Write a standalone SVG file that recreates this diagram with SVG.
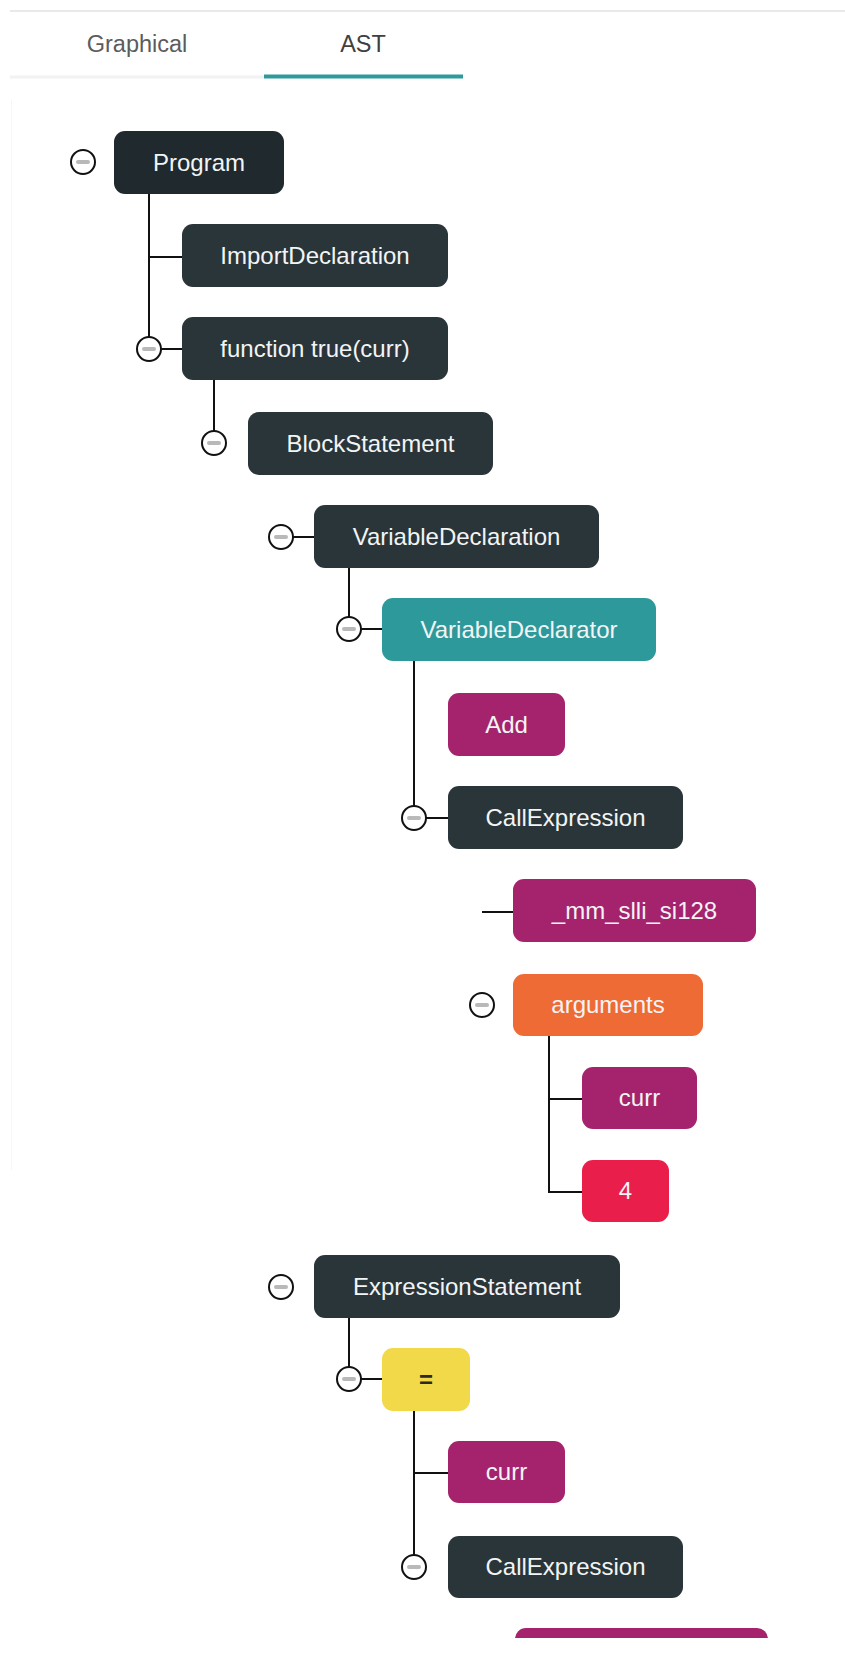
<svg xmlns="http://www.w3.org/2000/svg" width="845" height="1664" viewBox="0 0 845 1664">
  <defs>
    <style>
      .tab { font-family: "Liberation Sans", Arial, sans-serif; font-size: 23.5px; text-anchor: middle; }
      .node rect { stroke: none; }
      .node text { font-family: "Liberation Sans", Arial, sans-serif; font-size: 24px; text-anchor: middle; fill: #f2f4f5; }
      .root rect { fill: #1f292e; }
      .dark rect { fill: #2a3539; }
      .teal rect { fill: #2e999b; }
      .ident rect { fill: #a5236d; }
      .args rect { fill: #ef6b36; }
      .num rect { fill: #e91e4a; }
      .op rect { fill: #f2d94a; }
      .op text { fill: #2a2a2a; font-weight: bold; }
      .links line { stroke: #111; stroke-width: 2; }
      .toggle circle { fill: #fff; stroke: #111; stroke-width: 2; }
      .toggle line { stroke: #b9b9b9; stroke-width: 4; stroke-linecap: round; }
    </style>
    <symbol id="collapse" viewBox="-14 -14 28 28" overflow="visible">
      <g class="toggle">
        <circle r="12"/>
        <line x1="-5" y1="0" x2="5" y2="0"/>
      </g>
    </symbol>
    <clipPath id="viewport-clip">
      <rect x="0" y="0" width="845" height="1638"/>
    </clipPath>
  </defs>

  <rect width="845" height="1664" fill="#ffffff"/>

  <!-- tab header -->
  <g id="tabs">
    <line x1="10" y1="11" x2="845" y2="11" stroke="#e2e2e2" stroke-width="1.5"/>
    <line x1="10" y1="77" x2="264" y2="77" stroke="#f1f2f2" stroke-width="3"/>
    <line x1="264" y1="76.5" x2="463" y2="76.5" stroke="#2e9a9c" stroke-width="4"/>
    <text class="tab" x="137" y="52" fill="#5c5c5c">Graphical</text>
    <text class="tab" x="363" y="52" fill="#404040">AST</text>
  </g>

  <!-- faint panel edge -->
  <line x1="11.5" y1="100" x2="11.5" y2="1170" stroke="#f6f6f6" stroke-width="1"/>

  <!-- connectors -->
  <g id="connectors" class="links">
    <line x1="149" y1="194" x2="149" y2="349"/>
    <line x1="149" y1="257" x2="182" y2="257"/>
    <line x1="149" y1="349" x2="182" y2="349"/>
    <line x1="214" y1="380" x2="214" y2="443"/>
    <line x1="281" y1="537" x2="314" y2="537"/>
    <line x1="349" y1="568" x2="349" y2="629"/>
    <line x1="349" y1="629" x2="382" y2="629"/>
    <line x1="414" y1="661" x2="414" y2="818"/>
    <line x1="414" y1="818" x2="448" y2="818"/>
    <line x1="482" y1="912" x2="513" y2="912"/>
    <line x1="549" y1="1036" x2="549" y2="1192"/>
    <line x1="548" y1="1099" x2="582" y2="1099"/>
    <line x1="548" y1="1192" x2="582" y2="1192"/>
    <line x1="349" y1="1318" x2="349" y2="1379"/>
    <line x1="349" y1="1379" x2="382" y2="1379"/>
    <line x1="414" y1="1411" x2="414" y2="1567"/>
    <line x1="413" y1="1473" x2="448" y2="1473"/>
  </g>

  <!-- collapse toggles -->
  <g id="toggles">
    <use href="#collapse" x="69" y="148" width="28" height="28"/>
    <use href="#collapse" x="135" y="335" width="28" height="28"/>
    <use href="#collapse" x="200" y="429" width="28" height="28"/>
    <use href="#collapse" x="267" y="523" width="28" height="28"/>
    <use href="#collapse" x="335" y="615" width="28" height="28"/>
    <use href="#collapse" x="400" y="804" width="28" height="28"/>
    <use href="#collapse" x="468" y="991" width="28" height="28"/>
    <use href="#collapse" x="267" y="1273" width="28" height="28"/>
    <use href="#collapse" x="335" y="1365" width="28" height="28"/>
    <use href="#collapse" x="400" y="1553" width="28" height="28"/>
  </g>

  <!-- nodes -->
  <g id="node-program" class="node root">
    <rect x="114" y="131" width="170" height="63" rx="11"/>
    <text x="199" y="171">Program</text>
  </g>
  <g id="node-import" class="node dark">
    <rect x="182" y="224" width="266" height="63" rx="11"/>
    <text x="315" y="264">ImportDeclaration</text>
  </g>
  <g id="node-function" class="node dark">
    <rect x="182" y="317" width="266" height="63" rx="11"/>
    <text x="315" y="357">function true(curr)</text>
  </g>
  <g id="node-block" class="node dark">
    <rect x="248" y="412" width="245" height="63" rx="11"/>
    <text x="370.5" y="452">BlockStatement</text>
  </g>
  <g id="node-vardecl" class="node dark">
    <rect x="314" y="505" width="285" height="63" rx="11"/>
    <text x="456.5" y="545">VariableDeclaration</text>
  </g>
  <g id="node-declarator" class="node teal">
    <rect x="382" y="598" width="274" height="63" rx="11"/>
    <text x="519" y="638">VariableDeclarator</text>
  </g>
  <g id="node-add" class="node ident">
    <rect x="448" y="693" width="117" height="63" rx="11"/>
    <text x="506.5" y="733">Add</text>
  </g>
  <g id="node-call1" class="node dark">
    <rect x="448" y="786" width="235" height="63" rx="11"/>
    <text x="565.5" y="826">CallExpression</text>
  </g>
  <g id="node-callee" class="node ident">
    <rect x="513" y="879" width="243" height="63" rx="11"/>
    <text x="634.5" y="919">_mm_slli_si128</text>
  </g>
  <g id="node-arguments" class="node args">
    <rect x="513" y="974" width="190" height="62" rx="11"/>
    <text x="608" y="1013">arguments</text>
  </g>
  <g id="node-arg-curr" class="node ident">
    <rect x="582" y="1067" width="115" height="62" rx="11"/>
    <text x="639.5" y="1106">curr</text>
  </g>
  <g id="node-arg-4" class="node num">
    <rect x="582" y="1160" width="87" height="62" rx="11"/>
    <text x="625.5" y="1199">4</text>
  </g>
  <g id="node-exprstmt" class="node dark">
    <rect x="314" y="1255" width="306" height="63" rx="11"/>
    <text x="467" y="1295">ExpressionStatement</text>
  </g>
  <g id="node-assign" class="node op">
    <rect x="382" y="1348" width="88" height="63" rx="11"/>
    <text x="426" y="1388">=</text>
  </g>
  <g id="node-lhs-curr" class="node ident">
    <rect x="448" y="1441" width="117" height="62" rx="11"/>
    <text x="506.5" y="1480">curr</text>
  </g>
  <g id="node-call2" class="node dark">
    <rect x="448" y="1536" width="235" height="62" rx="11"/>
    <text x="565.5" y="1575">CallExpression</text>
  </g>
  <g id="node-callee2" class="node ident" clip-path="url(#viewport-clip)">
    <rect x="515" y="1628" width="253" height="63" rx="11"/>
  </g>
</svg>
